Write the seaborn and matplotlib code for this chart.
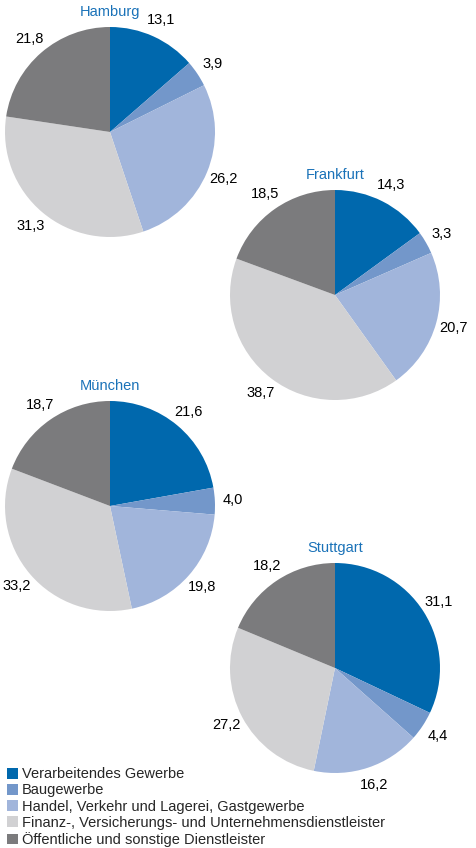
import matplotlib
matplotlib.use("Agg")
import matplotlib.pyplot as plt
import seaborn as sns

# Anteile der Wirtschaftsbereiche (%)
sectors = ["Verarbeitendes Gewerbe",
           "Baugewerbe",
           "Handel, Verkehr und Lagerei, Gastgewerbe",
           "Finanz-, Versicherungs- und Unternehmensdienstleister",
           "Öffentliche und sonstige Dienstleister"]
cities = ["Hamburg", "Frankfurt", "München", "Stuttgart"]
hamburg = [13.1, 3.9, 26.2, 31.3, 21.8]
frankfurt = [14.3, 3.3, 20.7, 38.7, 18.5]
muenchen = [21.6, 4.0, 19.8, 33.2, 18.7]
stuttgart = [31.1, 4.4, 16.2, 27.2, 18.2]

colors = ["#0068ad", "#7397ca", "#a1b5db", "#d1d1d3", "#7b7b7d"]
title_color = "#1a72b8"

sns.set_theme(style="white")
plt.rcParams["font.family"] = ["Liberation Sans", "DejaVu Sans"]
fs = 10.5

W, H = 476, 848
fig = plt.figure(figsize=(W / 100, H / 100), dpi=100)

# pie centres in pixels (x from left, y from top) and radius
centres = [(110, 132), (335, 295), (110, 506), (335, 668)]
r = 105
box = 2.5 * r

data = [hamburg, frankfurt, muenchen, stuttgart]
wedges0 = None
for name, vals, (cx, cy) in zip(cities, data, centres):
    ax = fig.add_axes([(cx - box / 2) / W, (H - cy - box / 2) / H, box / W, box / H])
    labels = [f"{v:.1f}".replace(".", ",") for v in vals]
    wedges, texts = ax.pie(vals, labels=labels, colors=colors, startangle=90,
                           counterclock=False, labeldistance=1.17,
                           wedgeprops=dict(linewidth=0),
                           textprops=dict(color="black", fontsize=fs))
    for t in texts:
        t.set_ha("center")
        t.set_va("center")
    ax.text(0, 1.14, name, ha="center", va="center", color=title_color, fontsize=fs)
    if wedges0 is None:
        wedges0 = wedges

leg = fig.legend(wedges0, sectors, loc="lower left", bbox_to_anchor=(0.006, -0.004),
                 frameon=False, handlelength=0.75, handleheight=0.75,
                 handletextpad=0.25, labelspacing=0.15, borderaxespad=0.0,
                 borderpad=0.3, fontsize=fs)

fig.savefig("out.png", dpi=100)
